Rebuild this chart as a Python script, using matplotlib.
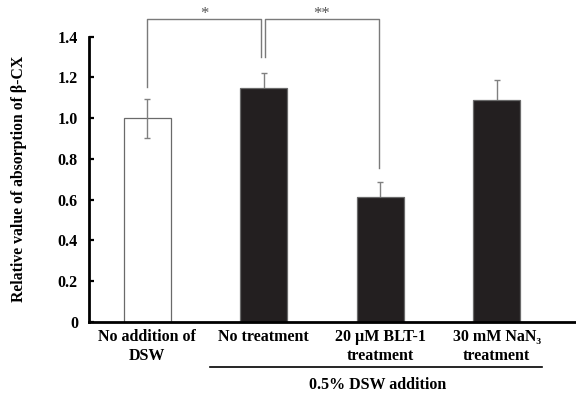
import matplotlib
matplotlib.use("Agg")
import matplotlib.pyplot as plt
from matplotlib.lines import Line2D
import matplotlib.transforms as mtransforms

plt.rcParams['font.family'] = ['Liberation Serif', 'DejaVu Serif']

categories = ["No addition of\nDSW", "No treatment", "20 µM BLT-1\ntreatment", "30 mM NaN₃\ntreatment"]
values = [1.00, 1.15, 0.615, 1.09]
errors = [0.095, 0.07, 0.073, 0.097]
bar_colors = ["white", "#231f20", "#231f20", "#231f20"]
yticks = [0, 0.2, 0.4, 0.6, 0.8, 1.0, 1.2, 1.4]
yticklabels = ["0", "0.2", "0.4", "0.6", "0.8", "1.0", "1.2", "1.4"]
group_label = "0.5% DSW addition"
ylabel = "Relative value of absorption of β-CX"
# significance brackets: (x_left, x_right, left leg bottom, right leg bottom, label)
brackets = [(0, 0.98, 1.155, 1.30, "*"), (1.01, 1.99, 1.30, 0.755, "**")]
bracket_top = 1.485

fig = plt.figure(figsize=(5.76, 3.94), dpi=100)
ax = fig.add_axes([0.1545, 0.1827, 0.8455, 0.7242])

x = list(range(len(values)))
ax.bar(x, values, width=0.40, color=bar_colors, edgecolor="#6a6a6a", linewidth=0.9, zorder=2)
ax.errorbar([x[0]], [values[0]], yerr=[errors[0]], fmt="none", ecolor="#808080",
            elinewidth=1.0, capsize=2.5, capthick=1.0, zorder=3)
ax.errorbar(x[1:], values[1:], yerr=errors[1:], fmt="none", ecolor="#808080",
            elinewidth=1.0, capsize=2.5, capthick=1.0, zorder=1)

ax.set_xlim(-0.5, 3.68)
ax.set_ylim(0, 1.4)
ax.set_yticks(yticks)
ax.set_yticklabels(yticklabels, fontsize=11.5, fontweight="bold")
ax.set_xticks(x)
ax.set_xticklabels(categories, fontsize=11.5, fontweight="bold", linespacing=1.25)
ax.tick_params(axis="x", length=0, pad=5)
ax.tick_params(axis="y", direction="in", length=3.5, width=1.6, pad=8)
for s in ["top", "right"]:
    ax.spines[s].set_visible(False)
ax.spines["left"].set_linewidth(2.0)
ax.spines["bottom"].set_linewidth(2.0)
ax.set_ylabel(ylabel, fontsize=11.3, fontweight="bold", labelpad=22)

for xl, xr, yl, yr, lab in brackets:
    ax.plot([xl, xl, xr, xr], [yl, bracket_top, bracket_top, yr], color="#7a7a7a",
            linewidth=1.0, clip_on=False, zorder=4)
    ax.text((xl + xr) / 2, bracket_top + 0.006, lab, ha="center", va="baseline",
            fontsize=12, color="#555555", clip_on=False)

trans = mtransforms.blended_transform_factory(ax.transData, fig.transFigure)
fig.add_artist(Line2D([0.536, 3.39], [0.0685, 0.0685], transform=trans, color="black", linewidth=1.2))
fig.text(1.98, 0.024, group_label, transform=trans, ha="center", va="center",
         fontsize=11.5, fontweight="bold")

fig.savefig("out.png", dpi=100)
